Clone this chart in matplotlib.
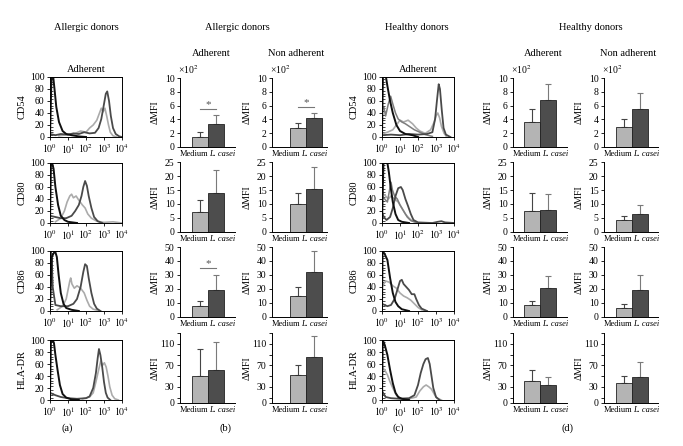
import numpy as np
import matplotlib.pyplot as plt

plt.rcParams['font.family'] = ['Liberation Serif', 'DejaVu Serif']
plt.rcParams['mathtext.fontset'] = 'stix'
plt.rcParams['axes.linewidth'] = 0.7

markers = ['CD54', 'CD80', 'CD86', 'HLA-DR']
bar_labels = ['Medium', 'L. casei']

# flow cytometry histograms: (log10 intensity, % of max)
a_cd54_black = [(0.0, 0), (0.05, 60), (0.08, 100), (0.18, 100), (0.25, 80), (0.35, 50), (0.5, 25),
                (0.7, 10), (0.9, 5), (1.2, 3), (1.6, 1), (2.0, 0)]
a_cd54_dark = [(0.0, 5), (0.3, 3), (0.6, 5), (1.0, 4), (1.3, 6), (1.6, 5), (1.9, 8), (2.2, 6), (2.5, 7),
               (2.7, 15), (2.85, 30), (3.0, 55), (3.1, 72), (3.18, 76), (3.28, 60), (3.38, 35), (3.5, 15),
               (3.65, 5), (3.85, 1), (4.0, 0)]
a_cd54_light = [(0.5, 2), (1.0, 4), (1.4, 6), (1.7, 10), (2.0, 8), (2.2, 15), (2.4, 20), (2.6, 28),
                (2.75, 40), (2.85, 48), (2.95, 42), (3.05, 48), (3.15, 35), (3.25, 20), (3.35, 8),
                (3.5, 2), (3.7, 0)]

a_cd80_black = [(0.0, 0), (0.05, 95), (0.12, 100), (0.2, 90), (0.3, 60), (0.45, 30), (0.6, 12),
                (0.8, 5), (1.0, 2), (1.5, 0)]
a_cd80_dark = [(0.0, 12), (0.3, 10), (0.6, 8), (0.9, 8), (1.2, 12), (1.4, 20), (1.6, 30), (1.75, 45),
               (1.85, 60), (1.95, 70), (2.05, 62), (2.15, 45), (2.3, 25), (2.45, 10), (2.65, 3), (2.9, 0)]
a_cd80_light = [(0.3, 2), (0.6, 8), (0.8, 20), (0.95, 35), (1.1, 45), (1.2, 48), (1.3, 42), (1.45, 45),
                (1.6, 38), (1.8, 30), (1.95, 25), (2.1, 15), (2.3, 8), (2.6, 3), (3.0, 1), (3.5, 2),
                (4.0, 0)]

a_cd86_black = [(0.0, 5), (0.1, 90), (0.18, 95), (0.28, 100), (0.38, 90), (0.48, 60), (0.6, 30),
                (0.75, 12), (0.9, 5), (1.2, 2), (1.6, 0)]
a_cd86_dark = [(0.0, 10), (0.05, 100), (0.1, 85), (0.15, 40), (0.3, 10), (0.6, 8), (1.0, 8), (1.3, 12),
               (1.5, 20), (1.7, 40), (1.85, 65), (1.95, 78), (2.05, 75), (2.15, 55), (2.3, 30),
               (2.45, 12), (2.6, 4), (2.8, 0)]
a_cd86_light = [(0.4, 2), (0.7, 8), (0.9, 20), (1.0, 35), (1.1, 50), (1.15, 55), (1.22, 45),
                (1.35, 38), (1.5, 42), (1.7, 38), (1.9, 30), (2.05, 18), (2.2, 8), (2.4, 3), (2.8, 0)]

a_hla_black = [(0.0, 10), (0.05, 95), (0.15, 100), (0.22, 95), (0.3, 75), (0.42, 50), (0.55, 25),
               (0.7, 10), (0.9, 4), (1.2, 1), (1.6, 0)]
a_hla_dark = [(0.0, 12), (0.3, 8), (0.6, 5), (1.0, 3), (1.5, 2), (2.0, 3), (2.2, 6), (2.4, 20),
              (2.55, 45), (2.65, 70), (2.72, 85), (2.8, 75), (2.9, 55), (3.0, 30), (3.1, 12),
              (3.2, 4), (3.35, 0)]
a_hla_light = [(1.8, 2), (2.2, 5), (2.4, 12), (2.55, 30), (2.7, 50), (2.82, 65), (2.92, 58),
               (3.02, 62), (3.12, 55), (3.22, 40), (3.32, 22), (3.45, 8), (3.6, 2), (3.8, 0)]

c_cd54_black = [(0.0, 0), (0.05, 100), (0.22, 100), (0.3, 85), (0.45, 60), (0.6, 40), (0.8, 20),
                (1.0, 10), (1.3, 5), (1.7, 3), (2.0, 0)]
c_cd54_dark = [(0.0, 3), (0.5, 4), (1.0, 3), (1.5, 5), (2.0, 4), (2.5, 5), (2.8, 8), (2.95, 30),
               (3.05, 60), (3.15, 88), (3.22, 80), (3.32, 45), (3.42, 15), (3.55, 4), (3.8, 0)]
c_cd54_mid = [(0.0, 45), (0.1, 50), (0.2, 35), (0.35, 55), (0.48, 68), (0.6, 55), (0.75, 40),
              (0.9, 30), (1.1, 25), (1.3, 22), (1.5, 18), (1.8, 12), (2.1, 8), (2.4, 4), (2.8, 1)]
c_cd54_light = [(0.0, 5), (0.3, 8), (0.6, 12), (0.85, 22), (1.0, 28), (1.2, 25), (1.45, 28),
                (1.7, 22), (1.9, 15), (2.1, 10), (2.4, 6), (2.7, 12), (2.9, 25), (3.0, 35), (3.1, 40),
                (3.2, 32), (3.3, 18), (3.45, 6), (3.6, 0)]

c_cd80_black = [(0.0, 0), (0.08, 100), (0.3, 100), (0.38, 85), (0.48, 60), (0.6, 35), (0.75, 15),
                (0.9, 5), (1.1, 2), (1.5, 0)]
c_cd80_dark = [(0.0, 18), (0.1, 10), (0.25, 5), (0.45, 10), (0.6, 25), (0.75, 45), (0.9, 58),
               (1.05, 60), (1.15, 55), (1.3, 40), (1.45, 28), (1.6, 15), (1.75, 5), (2.0, 1),
               (2.8, 0), (3.1, 2), (3.3, 3), (3.5, 1), (4.0, 0)]
c_cd80_mid = [(0.0, 45), (0.15, 40), (0.3, 35), (0.42, 55), (0.5, 68), (0.58, 55), (0.7, 45),
              (0.85, 40), (1.0, 30), (1.2, 20), (1.4, 10), (1.6, 4), (1.9, 1)]
c_cd80_light = [(0.0, 50), (0.2, 45), (0.35, 40), (0.5, 45), (0.7, 40), (0.9, 35), (1.1, 25),
                (1.3, 15), (1.5, 8), (1.7, 3), (2.0, 0)]

c_cd86_black = [(0.0, 0), (0.03, 100), (0.15, 95), (0.3, 85), (0.45, 55), (0.6, 30), (0.75, 15),
                (0.9, 8), (1.1, 3), (1.5, 0)]
c_cd86_dark = [(0.0, 12), (0.3, 8), (0.5, 10), (0.7, 20), (0.85, 35), (1.0, 50), (1.1, 52), (1.2, 45),
               (1.35, 40), (1.5, 35), (1.65, 28), (1.8, 28), (1.9, 20), (2.05, 10), (2.2, 4), (2.5, 0)]
c_cd86_light = [(0.0, 40), (0.2, 50), (0.4, 48), (0.6, 42), (0.8, 38), (1.0, 30), (1.2, 25),
                (1.4, 22), (1.6, 18), (1.8, 12), (2.0, 6), (2.2, 2), (2.5, 0)]

c_hla_black = [(0.0, 0), (0.04, 100), (0.15, 92), (0.3, 75), (0.45, 50), (0.6, 28), (0.75, 12),
               (0.9, 5), (1.1, 2), (1.5, 0)]
c_hla_dark = [(0.0, 15), (0.2, 5), (0.5, 3), (1.0, 2), (1.5, 3), (1.8, 8), (2.0, 25), (2.15, 45),
              (2.3, 60), (2.42, 68), (2.55, 70), (2.65, 60), (2.75, 40), (2.85, 20), (3.0, 5), (3.2, 0)]
c_hla_light = [(0.0, 55), (0.15, 50), (0.3, 42), (0.45, 30), (0.6, 20), (0.8, 8), (1.0, 3), (1.5, 2),
               (1.9, 5), (2.1, 15), (2.3, 22), (2.45, 25), (2.6, 22), (2.75, 18), (2.9, 10),
               (3.05, 3), (3.3, 0)]

# delta MFI bars (value, top of error bar), rows = markers
b_adh_medium = [1.4, 7.3, 7.6, 51]
b_adh_medium_top = [2.2, 11.6, 11.4, 101]
b_adh_casei = [3.3, 14.1, 19.5, 62]
b_adh_casei_top = [4.6, 22.3, 30.2, 114]
b_non_medium = [2.7, 10.1, 14.8, 52]
b_non_medium_top = [3.5, 14.1, 21.4, 71]
b_non_casei = [4.2, 15.5, 32.1, 86]
b_non_casei_top = [5.0, 23.2, 47.1, 125]
d_adh_medium = [3.6, 7.6, 8.5, 40]
d_adh_medium_top = [5.5, 14.0, 11.4, 62]
d_adh_casei = [6.8, 8.0, 20.9, 33]
d_adh_casei_top = [9.2, 13.6, 29.2, 48]
d_non_medium = [2.9, 4.3, 6.3, 37]
d_non_medium_top = [4.0, 5.7, 9.2, 50]
d_non_casei = [5.5, 6.4, 19.0, 49]
d_non_casei_top = [7.8, 9.6, 30.0, 77]

# significance line heights (None = no star)
b_adh_sig = [5.5, None, 35, None]
b_non_sig = [5.8, None, None, None]
d_adh_sig = [None, None, None, None]
d_non_sig = [None, None, None, None]

W, H = 683, 446
fig = plt.figure(figsize=(W / 100, H / 100), dpi=100)


def box(x0, x1, y0, y1):
    return [x0 / W, 1 - y1 / H, (x1 - x0) / W, (y1 - y0) / H]


def ftext(x, y, s, **kw):
    fig.text(x / W, 1 - y / H, s, ha='center', va='center', **kw)


hist_rows = [(77, 137), (163, 223), (251, 311), (340, 400)]
bar_rows = [(78, 147), (162, 232), (247, 317), (333, 403)]
bar_ylims = [10, 25, 50, 130]
bar_yticks = [[0, 2, 4, 6, 8, 10], [0, 5, 10, 15, 20, 25], [0, 10, 20, 30, 40, 50], [0, 30, 70, 110]]


def hist_panel(x0, x1, row, curves, label):
    y0, y1 = hist_rows[row]
    ax = fig.add_axes(box(x0, x1, y0, y1))
    for pts, color, lw in curves:
        if pts is None:
            continue
        d = np.array(pts, dtype=float)
        ax.plot(10 ** d[:, 0], d[:, 1], color=color, lw=lw, solid_joinstyle='round')
    ax.set_xscale('log')
    ax.set_xlim(1, 1e4)
    ax.set_ylim(0, 100)
    ax.set_xticks([1, 10, 100, 1000, 10000])
    ax.set_xticklabels(['$10^0$', '$10^1$', '$10^2$', '$10^3$', '$10^4$'])
    ax.set_yticks(range(0, 101, 20))
    ax.set_yticks(range(0, 101, 4), minor=True)
    ax.tick_params(labelsize=7, length=2.5, width=0.6, pad=1.5)
    ax.tick_params(which='minor', direction='in', length=2, width=0.5)
    ax.tick_params(axis='x', which='minor', labelbottom=False)
    ftext(x0 - 28, (y0 + y1) / 2, label, rotation=90, fontsize=7.5)
    return ax


def bar_panel(x0, x1, row, med, med_top, cas, cas_top, sig, off):
    y0, y1 = bar_rows[row]
    ax = fig.add_axes(box(x0, x1, y0, y1))
    w = 16.0
    xs = np.array([0, 1])
    vals = [med[row], cas[row]]
    tops = [med_top[row], cas_top[row]]
    ax.bar(xs, vals, width=1.0, color=['#b4b4b4', '#4d4d4d'], edgecolor='#222222', linewidth=0.6, zorder=2)
    for xi, v, t, c in zip(xs, vals, tops, ['#454545', '#7a7a7a']):
        ax.errorbar(xi, v, yerr=[[0], [t - v]], fmt='none', ecolor=c, elinewidth=0.8,
                    capsize=2.2, capthick=0.8, zorder=1)
    lo = -0.5 - off / w
    ax.set_xlim(lo, lo + (x1 - x0) / w)
    ax.set_ylim(0, bar_ylims[row])
    ax.set_yticks(bar_yticks[row])
    if row == 3:
        ax.set_yticks([10, 50, 90, 130], minor=True)
    ax.set_xticks([])
    ax.spines['top'].set_visible(False)
    ax.spines['right'].set_visible(False)
    ax.tick_params(labelsize=7, length=2.5, width=0.6, pad=1.5)
    ax.tick_params(which='minor', length=2.5, width=0.6)
    if sig[row] is not None:
        ax.plot([0, 1], [sig[row], sig[row]], color='#777777', lw=0.8)
        ax.text(0.5, sig[row], '*', ha='center', va='bottom', fontsize=8, color='#555555')
    ax.text(0.0, -0.05, bar_labels[0], transform=ax.transAxes, ha='left', va='top', fontsize=6)
    ax.text(0.53, -0.05, bar_labels[1], transform=ax.transAxes, ha='left', va='top',
            fontsize=6, style='italic')
    ftext(x0 - 25, (y0 + y1) / 2, '\u0394MFI', rotation=90, fontsize=7)
    if row == 0:
        ax.text(-0.04, 1.03, '\u00d710$^2$', transform=ax.transAxes, ha='left', va='bottom', fontsize=7)
    return ax


black, dark, mid, light = '#111111', '#4a4a4a', '#7d7d7d', '#ababab'

a_curves = [
    (a_cd54_light, None, a_cd54_dark, a_cd54_black),
    (a_cd80_light, None, a_cd80_dark, a_cd80_black),
    (a_cd86_light, None, a_cd86_dark, a_cd86_black),
    (a_hla_light, None, a_hla_dark, a_hla_black),
]
c_curves = [
    (c_cd54_light, c_cd54_mid, c_cd54_dark, c_cd54_black),
    (c_cd80_light, c_cd80_mid, c_cd80_dark, c_cd80_black),
    (c_cd86_light, None, c_cd86_dark, c_cd86_black),
    (c_hla_light, None, c_hla_dark, c_hla_black),
]

for i, m in enumerate(markers):
    lt, md, dk, bk = a_curves[i]
    hist_panel(50, 122, i, [(lt, light, 1.2), (md, mid, 1.1), (dk, dark, 1.3), (bk, black, 1.4)], m)
    lt, md, dk, bk = c_curves[i]
    hist_panel(382, 454, i, [(lt, light, 1.2), (md, mid, 1.1), (dk, dark, 1.3), (bk, black, 1.4)], m)

    bar_panel(180, 235, i, b_adh_medium, b_adh_medium_top, b_adh_casei, b_adh_casei_top, b_adh_sig, 12)
    bar_panel(272, 327, i, b_non_medium, b_non_medium_top, b_non_casei, b_non_casei_top, b_non_sig, 18)
    bar_panel(513, 567, i, d_adh_medium, d_adh_medium_top, d_adh_casei, d_adh_casei_top, d_adh_sig, 11)
    bar_panel(604, 658, i, d_non_medium, d_non_medium_top, d_non_casei, d_non_casei_top, d_non_sig, 12)

ftext(86, 28, 'Allergic donors', fontsize=7.5)
ftext(237, 28, 'Allergic donors', fontsize=7.5)
ftext(417, 28, 'Healthy donors', fontsize=7.5)
ftext(591, 28, 'Healthy donors', fontsize=7.5)

ftext(86, 70, 'Adherent', fontsize=7.5)
ftext(418, 70, 'Adherent', fontsize=7.5)
ftext(211, 54, 'Adherent', fontsize=7.5)
ftext(296, 54, 'Non adherent', fontsize=7.5)
ftext(543, 54, 'Adherent', fontsize=7.5)
ftext(628, 54, 'Non adherent', fontsize=7.5)

ftext(67, 428, '(a)', fontsize=7.5)
ftext(225, 428, '(b)', fontsize=7.5)
ftext(398, 428, '(c)', fontsize=7.5)
ftext(567, 428, '(d)', fontsize=7.5)

fig.savefig('out.png', dpi=100)
